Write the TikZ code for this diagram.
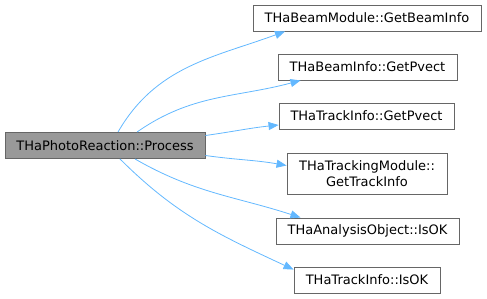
\documentclass[tikz,border=0pt]{standalone}
\usepackage{fontspec}
\setmainfont{DejaVu Sans}
\usepackage{xcolor}
\usepackage{tikz}
\usetikzlibrary{arrows.meta, positioning}

\definecolor{edgeblue}{HTML}{63B8FF}
\definecolor{boxgray}{HTML}{666666}
\definecolor{srcfill}{HTML}{999999}

\tikzset{
  fn/.style={draw=boxgray, fill=white, line width=0.9pt, minimum height=26pt,
    inner xsep=5pt, font=\fontsize{13pt}{16pt}\selectfont, align=center},
  src/.style={fn, fill=srcfill},
  call/.style={draw=edgeblue, line width=0.8pt, -{Triangle[length=10pt,width=8pt]}}
}

\begin{document}
\begin{tikzpicture}[x=1pt, y=-1pt]
\useasboundingbox (0,0) rectangle (487,299);
\node[src, minimum width=200pt] (proc) at (105,145.5) {THaPhotoReaction::Process};
\node[fn, minimum width=228pt] (beaminfo) at (367,18) {THaBeamModule::GetBeamInfo};
\node[fn, minimum width=179pt] (bpvect) at (367.5,67) {THaBeamInfo::GetPvect};
\node[fn, minimum width=175pt] (tpvect) at (366.5,116) {THaTrackInfo::GetPvect};
\node[fn, minimum width=160pt, minimum height=41pt] (trackinfo) at (367,173.5) {THaTrackingModule::\\GetTrackInfo};
\node[fn, minimum width=183pt] (aok) at (367.5,231) {THaAnalysisObject::IsOK};
\node[fn, minimum width=146pt] (tok) at (367,280) {THaTrackInfo::IsOK};

\draw[call] ([xshift=13pt]proc.north) to[out=60, in=200] ([xshift=-82pt]beaminfo.south);
\draw[call] ([xshift=32pt]proc.north) to[out=35, in=195] ([xshift=-67pt]bpvect.south);
\draw[call] ([yshift=10pt]proc.east) to[out=8, in=186] ([yshift=-9pt]tpvect.west);
\draw[call] ([yshift=-10pt]proc.east) to[out=-8, in=170] ([yshift=8pt]trackinfo.west);
\draw[call] ([xshift=30pt]proc.south) to[out=-30, in=162] ([xshift=-67pt]aok.north);
\draw[call] ([xshift=15pt]proc.south) to[out=-45, in=155] ([yshift=-3pt]tok.north west);
\end{tikzpicture}
\end{document}
